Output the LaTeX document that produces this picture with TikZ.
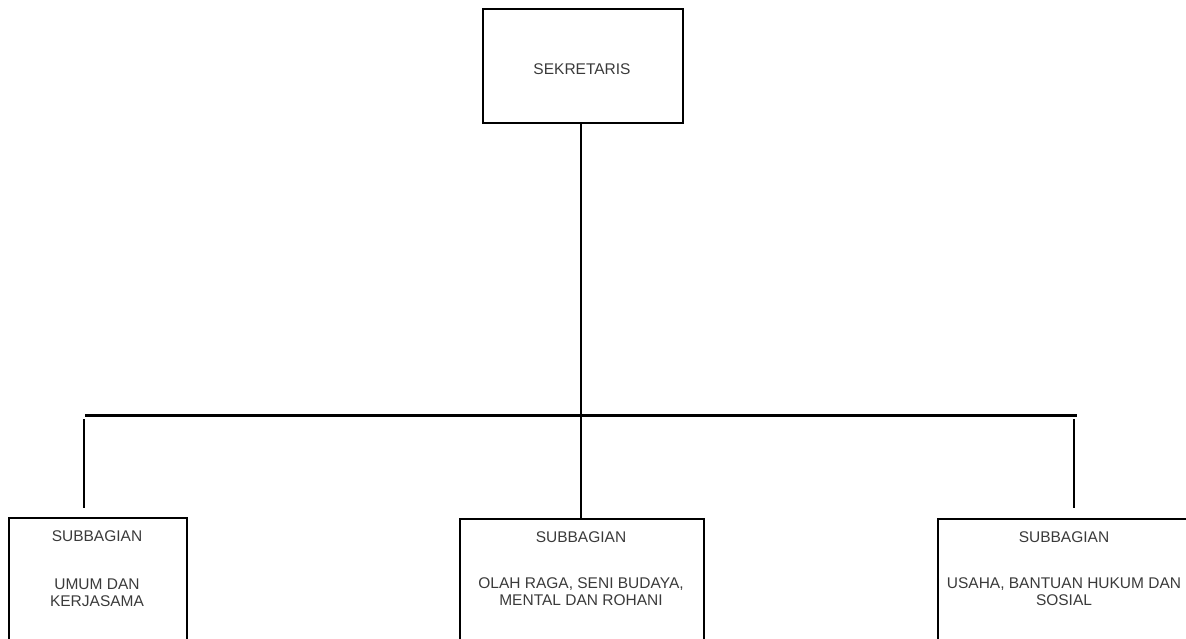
\documentclass[tikz,border=0pt]{standalone}
\usepackage{fontspec}
\setmainfont{Liberation Sans}
\definecolor{txt}{HTML}{3A3A3A}
\begin{document}
\begin{tikzpicture}[x=1pt,y=1pt,
  box/.style={draw=black,line width=1.6pt,minimum width=#1,inner sep=0pt,anchor=north west},
  lbl/.style={text=txt,font=\fontsize{15.5}{17}\selectfont,align=center,inner sep=0pt},
  conn/.style={draw=black,line width=1.4pt},
  bus/.style={draw=black,line width=2.6pt}]
\useasboundingbox (0,0) rectangle (1186,-639);
\clip (0,0) rectangle (1186,-639);
% boxes
\node[box=200pt,minimum height=114pt] (sek) at (482,-8) {};
\node[box=178pt,minimum height=160pt] (b1) at (8,-517) {};
\node[box=244pt,minimum height=160pt] (b2) at (459,-518) {};
\node[box=254pt,minimum height=160pt] (b3) at (937,-518) {};
% texts
\node[lbl] (tsek) at (582,-69) {SEKRETARIS};
\node[lbl] (t1a) at (97,-536) {SUBBAGIAN};
\node[lbl] (t1b) at (97,-592.5) {UMUM DAN\\KERJASAMA};
\node[lbl] (t2a) at (581,-537) {SUBBAGIAN};
\node[lbl] (t2b) at (581,-591.5) {OLAH RAGA, SENI BUDAYA,\\MENTAL DAN ROHANI};
\node[lbl] (t3a) at (1064,-537) {SUBBAGIAN};
\node[lbl] (t3b) at (1064,-591.5) {USAHA, BANTUAN HUKUM DAN\\SOSIAL};
% bus
\coordinate (busL) at (85,-415.5);
\coordinate (busR) at (1077,-415.5);
\coordinate (busM) at (581,-415.5);
\draw[bus] (busL) -- (busR);
% connectors
\draw[conn] (sek.south -| busM) -- (busM);
\draw[conn] (busM) -- (b2.north -| busM);
\coordinate (d1a) at (84,-419);
\coordinate (d1b) at (84,-508);
\draw[conn] (d1a) -- (d1b);
\coordinate (d3a) at (1074,-419);
\coordinate (d3b) at (1074,-508);
\draw[conn] (d3a) -- (d3b);
\end{tikzpicture}
\end{document}
